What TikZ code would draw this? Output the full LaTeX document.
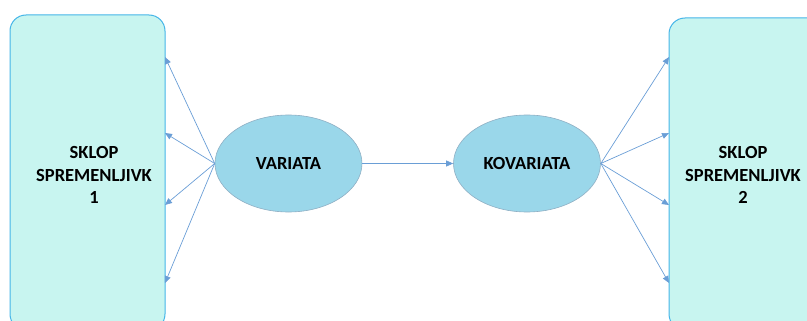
\documentclass[tikz,border=0pt]{standalone}
\usepackage{fontspec}
\setmainfont{Carlito}
\usetikzlibrary{shapes.geometric,arrows.meta}
\definecolor{boxfill}{HTML}{C8F5F0}
\definecolor{boxline}{HTML}{45B5E8}
\definecolor{ellfill}{HTML}{9AD7EA}
\definecolor{ellline}{HTML}{8FAFC4}
\definecolor{arrowcol}{HTML}{6A9ED6}
\tikzset{
  setbox/.style={draw=boxline, line width=1pt, fill=boxfill, rounded corners=16pt},
  latent/.style={ellipse, draw=ellline, line width=0.6pt, fill=ellfill,
    minimum width=147pt, minimum height=97pt, inner sep=0pt,
    font=\bfseries\fontsize{18.5}{22}\selectfont},
  boxlabel/.style={align=center, font=\bfseries\fontsize{18.5}{22.5}\selectfont},
  link/.style={draw=arrowcol, line width=0.7pt, -{Triangle[length=7pt,width=6pt]}}
}
\begin{document}
\begin{tikzpicture}[x=1pt,y=-1pt]
  \useasboundingbox (0,0) rectangle (807,321);
  \begin{scope}
    \clip (0,0) rectangle (807,321);
    % the two variable sets
    \draw[setbox] (10,15) rectangle (165,330);
    \draw[setbox] (669,18) rectangle (830,330);
  \end{scope}
  \node[boxlabel] (set1) at (94,175) {SKLOP\\SPREMENLJIVK\\1};
  \node[boxlabel] (set2) at (743,175) {SKLOP\\SPREMENLJIVK\\2};

  % canonical variates
  \node[latent] (var) at (288.5,163.5) {VARIATA};
  \node[latent] (kov) at (527,163.5) {KOVARIATA};

  % arrow endpoints on the set boundaries
  \coordinate (l1) at (165,57);
  \coordinate (l2) at (165,133);
  \coordinate (l3) at (165,205);
  \coordinate (l4) at (165,283);
  \coordinate (r1) at (669,57);
  \coordinate (r2) at (669,133);
  \coordinate (r3) at (669,205);
  \coordinate (r4) at (669,283);

  \draw[link] (var.east) -- (kov.west);
  \foreach \i in {1,2,3,4}{
    \draw[link] (var.west) -- (l\i);
    \draw[link] (kov.east) -- (r\i);
  }
\end{tikzpicture}
\end{document}
